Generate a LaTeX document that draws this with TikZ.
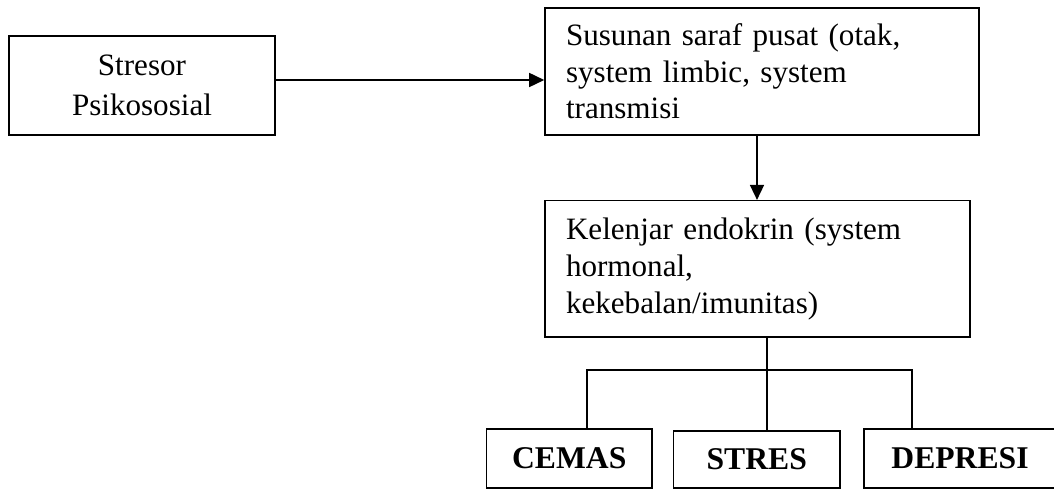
\documentclass[tikz,border=0pt]{standalone}
\usepackage{fontspec}
\setmainfont{Liberation Serif}
\usepackage{tikz}
\usetikzlibrary{positioning}
\usetikzlibrary{arrows.meta}
\pgfdeclarelayer{nodelayer}
\pgfdeclarelayer{edgelayer}
\pgfsetlayers{nodelayer,edgelayer,main}
\tikzset{
    box/.style = {draw, rectangle, line width=0.9pt, inner sep=0pt},
    leftbox/.style = {box, align=left, inner xsep=0.42cm},
    resultbox/.style = {box, font=\fontsize{18}{21}\selectfont\bfseries},
    line/.style = {line width=0.9pt},
    arrow/.style = {line, -{Triangle[length=0.3cm, width=0.28cm]}}
}

\begin{document}
\begin{tikzpicture}
  \useasboundingbox (0, 0) rectangle (21.08, 9.78);
  \begin{pgfonlayer}{nodelayer}
    \node [box, align=center, minimum width=5.32cm, minimum height=1.98cm, font=\fontsize{17.7}{22.8}\selectfont] (0) at (2.84, 8.07) {Stresor\\Psikososial};
    \node [leftbox, text width=7.84cm, minimum height=2.54cm, font=\fontsize{17.7}{20.8}\selectfont] (1) at (15.24, 8.35) {Susunan saraf pusat (otak,\\system limbic, system\\transmisi};
    \node [leftbox, text width=7.66cm, minimum height=2.726cm, font=\fontsize{17.7}{21.2}\selectfont] (2) at (15.15, 4.403) {Kelenjar endokrin (system\\hormonal,\\kekebalan/imunitas)};
    \node [resultbox, minimum width=3.31cm, minimum height=1.18cm] (3) at (11.385, 0.61) {CEMAS};
    \node [resultbox, minimum width=3.33cm, minimum height=1.14cm] (4) at (15.135, 0.59) {STRES};
    \node [resultbox, minimum width=3.84cm, minimum height=1.18cm] (5) at (19.2, 0.61) {DEPRESI};
    \coordinate (6) at (15.34, 2.38);
  \end{pgfonlayer}
  \begin{pgfonlayer}{edgelayer}
    \draw [arrow] ([yshift=0.11cm]0.east) to ([yshift=-0.17cm]1.west);
    \draw [arrow] ([xshift=-0.1cm]1.south) to ([xshift=-0.01cm]2.north);
    \draw [line] ([xshift=0.19cm]2.south) to ([xshift=0.205cm]4.north);
    \draw [line] ([xshift=0.355cm]3.north) |- (6) -| ([xshift=-0.96cm]5.north);
  \end{pgfonlayer}
\end{tikzpicture}
\end{document}
